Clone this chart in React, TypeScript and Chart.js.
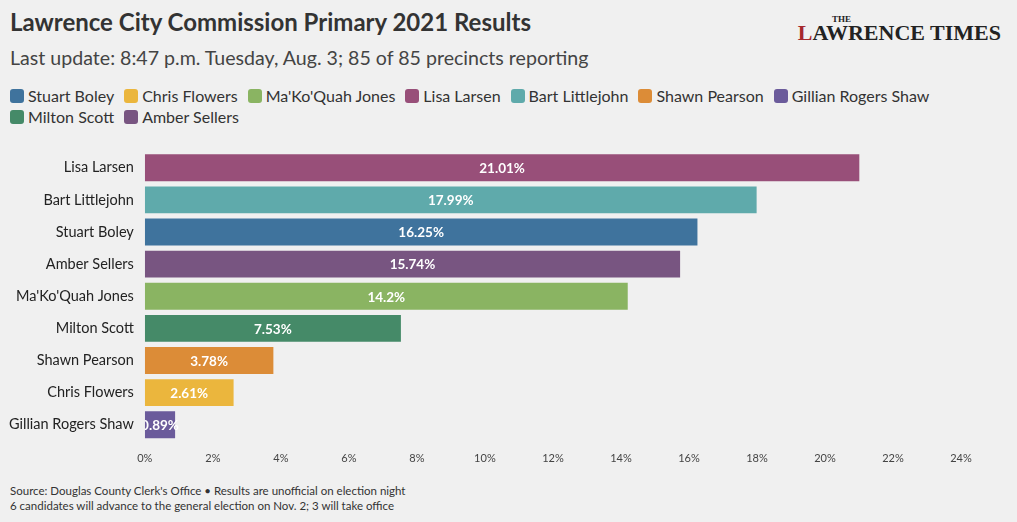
import React, { useEffect, useRef } from "react";
import { Chart, registerables } from "chart.js";
Chart.register(...registerables);

const candidates = ["Lisa Larsen","Bart Littlejohn","Stuart Boley","Amber Sellers","Ma'Ko'Quah Jones","Milton Scott","Shawn Pearson","Chris Flowers","Gillian Rogers Shaw"];
const values = [21.01,17.99,16.25,15.74,14.2,7.53,3.78,2.61,0.89];
const colors = ["#984f79","#5faaab","#3f739d","#785581","#8ab462","#458a68","#dc8c37","#ebb63d","#6b5b9b"];
const legendNames = ["Stuart Boley","Chris Flowers","Ma'Ko'Quah Jones","Lisa Larsen","Bart Littlejohn","Shawn Pearson","Gillian Rogers Shaw","Milton Scott","Amber Sellers"];
const FONT = "'Source Sans Pro', Lato, 'Noto Sans', sans-serif";

const labelPlugin = {
  id: "lbl",
  afterDatasetsDraw(chart: any) {
    const ctx = chart.ctx; const a = chart.chartArea;
    ctx.save();
    ctx.beginPath(); ctx.rect(a.left, a.top, a.right - a.left, a.bottom - a.top); ctx.clip();
    ctx.font = `bold 13.5px ${FONT}`; ctx.fillStyle = "#fff"; ctx.textAlign = "center"; ctx.textBaseline = "middle";
    chart.getDatasetMeta(0).data.forEach((b: any, i: number) => {
      ctx.fillText(values[i] + "%", (b.x + b.base) / 2, b.y + 1);
    });
    ctx.restore();
  },
};

export default function App() {
  const ref = useRef<HTMLCanvasElement>(null);
  useEffect(() => {
    document.body.style.margin = "0";
    document.body.style.background = "#f0f0f0";
    const c = new Chart(ref.current!, {
      type: "bar",
      data: { labels: candidates, datasets: [{ data: values, backgroundColor: colors, categoryPercentage: 0.84, barPercentage: 1 }] },
      options: {
        indexAxis: "y", animation: false, responsive: false, maintainAspectRatio: false,
        layout: { padding: { left: 6, right: 56, top: 0, bottom: 0 } },
        plugins: { legend: { display: false }, tooltip: { enabled: false } },
        scales: {
          x: { min: 0, max: 24, grid: { display: false }, border: { display: false },
            ticks: { stepSize: 2, callback: (v: any) => v + "%", color: "#444", font: { size: 11, family: FONT } } },
          y: { grid: { display: false }, border: { display: false },
            ticks: { color: "#222", font: { size: 14.5, family: FONT } } },
        },
      },
      plugins: [labelPlugin],
    });
    return () => c.destroy();
  }, []);
  return (
    <div style={{ position: "relative", width: 1017, height: 522, background: "#f0f0f0", fontFamily: FONT, color: "#333", overflow: "hidden" }}>
      <div style={{ position: "absolute", left: 10, top: 7, fontSize: 24, fontWeight: 700, color: "#333" }}>Lawrence City Commission Primary 2021 Results</div>
      <div style={{ position: "absolute", left: 10, top: 46, fontSize: 19.6, color: "#444" }}>Last update: 8:47 p.m. Tuesday, Aug. 3; 85 of 85 precincts reporting</div>
      <div style={{ position: "absolute", right: 16, top: 14, textAlign: "right", fontFamily: "'Liberation Serif', serif", color: "#222" }}>
        <div style={{ fontSize: 9, fontWeight: 700, marginRight: 150, color: "#222" }}>THE</div>
        <div style={{ fontSize: 22, fontWeight: 700, marginTop: -4 }}><span style={{ color: "#a5282d" }}>L</span>AWRENCE TIMES</div>
      </div>
      <div style={{ position: "absolute", left: 10, top: 86, width: 980, display: "flex", flexWrap: "wrap", columnGap: 10, rowGap: 2, fontSize: 16 }}>
        {legendNames.map((n) => (
          <div key={n} style={{ display: "flex", alignItems: "center" }}>
            <span style={{ width: 14, height: 14, borderRadius: 3, background: colors[candidates.indexOf(n)], marginRight: 4, display: "inline-block" }} />
            <span>{n}</span>
          </div>
        ))}
      </div>
      <canvas ref={ref} width={1017} height={328} style={{ position: "absolute", left: 0, top: 140 }} />
      <div style={{ position: "absolute", left: 10, top: 483, fontSize: 11.5, lineHeight: "15px", color: "#333" }}>
        <div>Source: Douglas County Clerk's Office • Results are unofficial on election night</div>
        <div>6 candidates will advance to the general election on Nov. 2; 3 will take office</div>
      </div>
    </div>
  );
}
